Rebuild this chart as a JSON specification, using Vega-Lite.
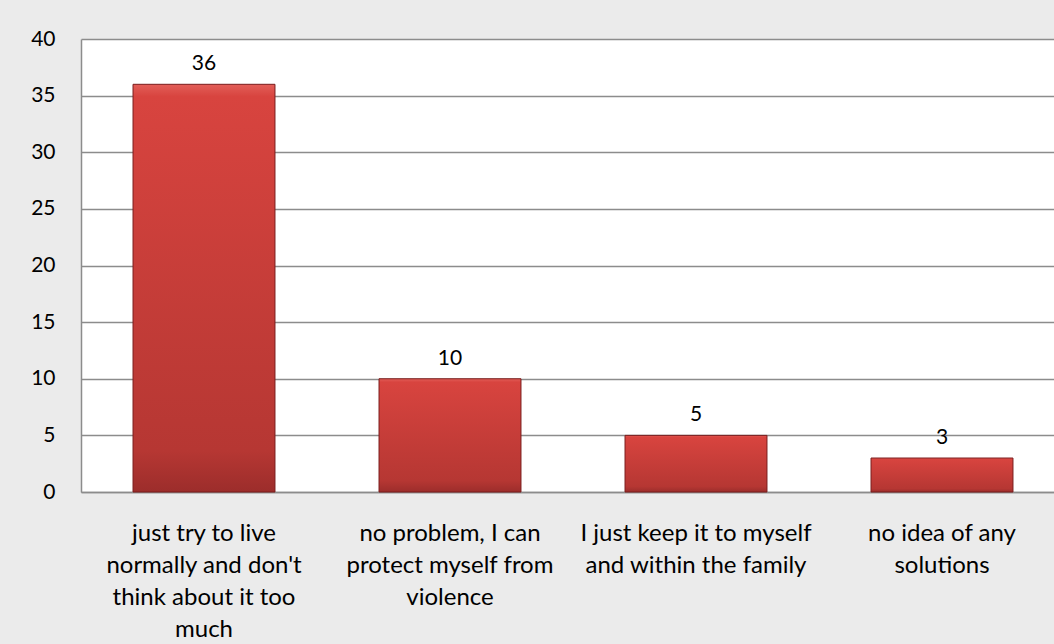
{
  "$schema": "https://vega.github.io/schema/vega-lite/v6.json",
  "autosize": {"type": "none"},
  "padding": {"left": 81, "top": 39, "right": 0, "bottom": 152},
  "width": 984,
  "height": 453,
  "background": "#ebebeb",
  "config": {
    "view": {"fill": "white", "stroke": null},
    "font": "Lato",
    "axis": {"labelFont": "Lato", "labelColor": "#000000"}
  },
  "data": {
    "values": [
      {"answer": "just try to live normally and don't think about it too much", "count": 36},
      {"answer": "no problem, I can protect myself from violence", "count": 10},
      {"answer": "I just keep it to myself and within the family", "count": 5},
      {"answer": "no idea of any solutions", "count": 3}
    ]
  },
  "encoding": {
    "x": {
      "field": "answer",
      "type": "nominal",
      "sort": null,
      "scale": {"paddingInner": 0.423, "paddingOuter": 0.2115},
      "axis": {
        "title": null,
        "labelAngle": 0,
        "labelFontSize": 24,
        "ticks": false,
        "domain": true,
        "domainColor": "#8c8c8c",
        "domainWidth": 1.5,
        "labelPadding": 29,
        "labelBaseline": "top",
        "labelLineHeight": 32,
        "labelLimit": 300,
        "labelExpr": "datum.value == \"just try to live normally and don't think about it too much\" ? ['just try to live', \"normally and don't\", 'think about it too', 'much'] : datum.value == 'no problem, I can protect myself from violence' ? ['no problem, I can', 'protect myself from', 'violence'] : datum.value == 'I just keep it to myself and within the family' ? ['I just keep it to myself', 'and within the family'] : ['no idea of any', 'solutions']"
      }
    },
    "y": {
      "field": "count",
      "type": "quantitative",
      "scale": {"domain": [0, 40], "nice": false},
      "axis": {
        "title": null,
        "values": [0, 5, 10, 15, 20, 25, 30, 35, 40],
        "labelFontSize": 21,
        "ticks": false,
        "labelPadding": 26,
        "domain": true,
        "domainColor": "#8c8c8c",
        "domainWidth": 1.5,
        "grid": true,
        "gridColor": "#8c8c8c",
        "gridWidth": 1.5,
        "gridOpacity": 1
      }
    }
  },
  "layer": [
    {
      "mark": {
        "type": "bar",
        "stroke": "#7a1c1c",
        "strokeWidth": 1,
        "color": {
          "gradient": "linear",
          "x1": 0, "y1": 0, "x2": 0, "y2": 1,
          "stops": [
            {"offset": 0, "color": "#e25e58"},
            {"offset": 0.03, "color": "#d8443f"},
            {"offset": 0.9, "color": "#b63733"},
            {"offset": 1, "color": "#9c2d2b"}
          ]
        }
      }
    },
    {
      "mark": {"type": "text", "baseline": "middle", "dy": -20, "fontSize": 21, "font": "Lato", "color": "#000000"},
      "encoding": {"text": {"field": "count", "type": "quantitative"}}
    }
  ]
}
